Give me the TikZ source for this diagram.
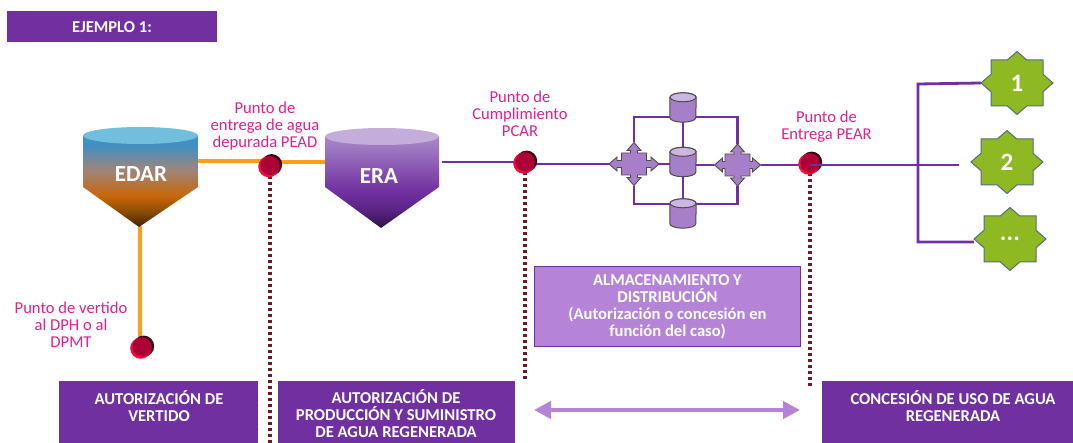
\documentclass[tikz,border=0pt]{standalone}
\usepackage{fontspec}
\setmainfont{Carlito}
\usetikzlibrary{shapes.geometric,arrows.meta,calc}
\definecolor{vio}{HTML}{7030A0}
\definecolor{lila}{HTML}{B584D8}
\definecolor{midl}{HTML}{A67FC8}
\definecolor{rosa}{HTML}{E0218A}
\definecolor{oran}{HTML}{FF9E1B}
\definecolor{dots}{HTML}{6E1A26}
\definecolor{redd}{HTML}{AE0038}
\definecolor{verde}{HTML}{8FB922}
\definecolor{slat}{HTML}{4F6F80}
\definecolor{eA}{HTML}{402000}
\definecolor{eB}{HTML}{8F4E05}
\definecolor{eC}{HTML}{C86608}
\definecolor{eD}{HTML}{A08478}
\definecolor{eE}{HTML}{4090C4}
\definecolor{eTop}{HTML}{72BFDD}
\definecolor{rA}{HTML}{2E1245}
\definecolor{rB}{HTML}{5A2585}
\definecolor{rC}{HTML}{7030A0}
\definecolor{rD}{HTML}{A480C6}
\definecolor{rTop}{HTML}{C4ACDB}
\definecolor{cylTop}{HTML}{CDB6E4}
\pgfdeclareverticalshading{edarsh}{100bp}{
 color(0bp)=(eA); color(25bp)=(eA); color(34bp)=(eB); color(42bp)=(eC);
 color(56bp)=(eD); color(70bp)=(eE); color(100bp)=(eE)}
\pgfdeclareverticalshading{erash}{100bp}{
 color(0bp)=(rA); color(25bp)=(rA); color(35bp)=(rB); color(45bp)=(rC);
 color(72bp)=(rD); color(100bp)=(rD)}
\tikzset{
 x=1pt,y=-1pt,
 pinklabel/.style={text=rosa,align=center,font=\fontsize{16.6}{17}\selectfont,inner sep=0pt},
 whitelabel/.style={text=white,align=center,font=\bfseries\fontsize{16.6}{17}\selectfont,inner sep=0pt},
 tanklabel/.style={text=white,font=\bfseries\fontsize{23}{23}\selectfont,inner sep=0pt},
 darkbox/.style={fill=vio,inner sep=0pt,anchor=north west},
 orangeline/.style={draw=oran,line width=3.2pt},
 purpleline/.style={draw=vio,line width=2.8pt},
 dottedline/.style={draw=dots,line width=3.2pt,dash pattern=on 3pt off 3pt},
 pointnode/.style={circle,minimum size=20pt,inner sep=0pt},
 storage/.style={minimum width=26pt,minimum height=29pt,inner sep=0pt},
 badge/.style={minimum width=72pt,minimum height=63pt,inner sep=0pt,text=white,font=\bfseries\fontsize{25}{25}\selectfont},
}
\newcommand{\badgeat}[4]{%
 \fill[verde,draw=slat,line width=1pt] (#2+36,#3) -- (#2+26,#3-8.75) -- (#2+26,#3-23) -- (#2+9.7,#3-23) -- (#2,#3-31.5)
  -- (#2-9.7,#3-23) -- (#2-26,#3-23) -- (#2-26,#3-8.75) -- (#2-36,#3) -- (#2-26,#3+8.75) -- (#2-26,#3+23)
  -- (#2-9.7,#3+23) -- (#2,#3+31.5) -- (#2+9.7,#3+23) -- (#2+26,#3+23) -- (#2+26,#3+8.75) -- cycle;
 \node[badge] (#1) at (#2,#3) {#4};}
\newcommand{\crossat}[5]{%
 \fill[midl,draw=black!70,line width=.9pt] (#2+#4,#3) -- (#2+#4-8,#3-7) -- (#2+#4-8,#3-3.5) -- (#2+12.5,#3-3.5) -- (#2+12.5,#3-11)
  -- (#2+3.5,#3-11) -- (#2+3.5,#3-#5+8) -- (#2+7,#3-#5+8) -- (#2,#3-#5) -- (#2-7,#3-#5+8) -- (#2-3.5,#3-#5+8) -- (#2-3.5,#3-11)
  -- (#2-12.5,#3-11) -- (#2-12.5,#3-3.5) -- (#2-#4+8,#3-3.5) -- (#2-#4+8,#3-7) -- (#2-#4,#3) -- (#2-#4+8,#3+7) -- (#2-#4+8,#3+3.5)
  -- (#2-12.5,#3+3.5) -- (#2-12.5,#3+11) -- (#2-3.5,#3+11) -- (#2-3.5,#3+#5-8) -- (#2-7,#3+#5-8) -- (#2,#3+#5) -- (#2+7,#3+#5-8)
  -- (#2+3.5,#3+#5-8) -- (#2+3.5,#3+11) -- (#2+12.5,#3+11) -- (#2+12.5,#3+3.5) -- (#2+#4-8,#3+3.5) -- (#2+#4-8,#3+7) -- cycle;
 \node[minimum width=2*#4 pt,minimum height=2*#5 pt,inner sep=0pt] (#1) at (#2,#3) {};}
\newcommand{\pointdot}[1]{%
 \fill[black!65!redd] ($(#1)+(1.6,-.8)$) circle[radius=10.6];
 \fill[red!60!rosa] ($(#1)+(-1.2,1.2)$) circle[radius=10.6];
 \fill[redd] (#1) circle[radius=9.6];}
\newcommand{\cylat}[1]{%
 \fill[midl,draw=black!70,line width=1pt] ($(#1.north west)+(0,4.5)$) -- ($(#1.south west)+(0,-4.5)$)
   arc[start angle=180,end angle=360,x radius=13,y radius=-4.5]
   -- ($(#1.north east)+(0,4.5)$) arc[start angle=0,end angle=180,x radius=13,y radius=-4.5] -- cycle;
 \fill[cylTop,draw=black!70,line width=1pt] ($(#1.north)+(0,4.5)$) ellipse[x radius=13,y radius=4.5];}
\begin{document}
\begin{tikzpicture}
\useasboundingbox (0,0) rectangle (1073,443);
% title
\node[darkbox,minimum width=210pt,minimum height=31pt] (title) at (7,11) {};
\node[whitelabel,anchor=west] (titletext) at (72,27) {EJEMPLO 1:};
% anchors
\coordinate (edarE) at (198,161);
\coordinate (edarTip) at (140,226);
\coordinate (eraW) at (325,162);
\coordinate (eraE) at (442,162);
\node[pointnode] (pead) at (270,165.5) {};
\node[pointnode] (vert) at (142,347) {};
\node[pointnode] (pcar) at (525,162) {};
\node[pointnode] (pear) at (810,163) {};
\coordinate (peadEnd) at (270,443);
\coordinate (pcarEnd) at (525,381);
\coordinate (pearEnd) at (810,387);
% dotted
\draw[dottedline] (pead.south) -- (peadEnd);
\draw[dottedline] (pcar.south) -- (pcarEnd);
\draw[dottedline] (pear.south) -- (pearEnd);
% orange lines
\draw[orangeline] (edarE) -- (edarE -| pead.center);
\draw[orangeline] (eraW -| pead.center) -- (eraW);
\draw[orangeline] (edarTip) -- (edarTip |- vert.center);
% tanks
\shade[shading=edarsh] (83,136) -- (198,136) -- (198,187) -- (139,227) -- (83,187) -- cycle;
\fill[eTop] (140.5,135.5) ellipse[x radius=57.5,y radius=8.5];
\node[tanklabel] (edar) at (141,174) {EDAR};
\shade[shading=erash] (325,137) -- (439,137) -- (439,187) -- (381,228) -- (325,187) -- cycle;
\fill[rTop] (382,136.5) ellipse[x radius=57,y radius=8.5];
\node[tanklabel] (era) at (379,176) {ERA};
% storage network
\node[storage] (cyltop) at (683,107.5) {};
\node[storage] (cylmid) at (683,162) {};
\node[storage] (cylbot) at (683,213.5) {};
\coordinate (loopT) at (683,117);
\coordinate (loopB) at (683,204);
\crossat{crossL}{634}{164}{25}{21.5}
\crossat{crossR}{737.5}{165}{23}{21}
\draw[purpleline] (eraE) -- (eraE -| pcar.center);
\draw[purpleline] (crossL.west -| pcar.center) -- (crossL.west);
\draw[purpleline] (crossL.east) -- (crossL.east -| cylmid.west);
\draw[purpleline] (crossR.west -| cylmid.east) -- (crossR.west);
\draw[purpleline] (crossR.east) -- (crossR.east -| pear.center);
\draw[purpleline] (crossL.north) |- (loopT) -| (crossR.north);
\draw[purpleline] (crossL.south) |- (loopB) -| (crossR.south);
\draw[purpleline] (cyltop.south) -- (cylbot.north);
\cylat{cyltop}
\cylat{cylmid}
\cylat{cylbot}
% points
\pointdot{pead}
\pointdot{vert}
\pointdot{pcar}
\pointdot{pear}
% consumers
\badgeat{s1}{1017}{83}{1}
\badgeat{s2}{1007}{162}{2}
\badgeat{s3}{1010}{239}{...}
\coordinate (busTop) at (918,84);
\coordinate (busBot) at (918,242);
\coordinate (busEnd) at (959,165);
\draw[purpleline] (busEnd -| pear.center) -- (busEnd);
\draw[purpleline] (s1.west) -- (busTop) -- (busBot) -- (s3.west |- busBot);
% labels
\node[pinklabel] (lpead) at (265,126) {Punto de\\entrega de agua\\depurada PEAD};
\node[pinklabel] (lpcar) at (520,114) {Punto de\\Cumplimiento\\PCAR};
\node[pinklabel] (lpear) at (826.5,127) {Punto de\\Entrega PEAR};
\node[pinklabel] (lvert) at (71,325) {Punto de vertido\\al DPH o al\\DPMT};
% boxes
\node[darkbox,minimum width=199pt,minimum height=62pt] (b1) at (59,381) {};
\node[whitelabel] (b1t) at (159,406) {AUTORIZACIÓN DE\\VERTIDO};
\node[darkbox,minimum width=237pt,minimum height=62pt] (b2) at (278,381) {};
\node[whitelabel] (b2t) at (396,414) {AUTORIZACIÓN DE\\PRODUCCIÓN Y SUMINISTRO\\DE AGUA REGENERADA};
\node[darkbox,minimum width=251pt,minimum height=62pt] (b3) at (822,381) {};
\node[whitelabel] (b3t) at (953,406) {CONCESIÓN  DE USO DE AGUA\\REGENERADA};
\node[fill=lila,draw=vio,line width=1.2pt,minimum width=266pt,minimum height=80pt,inner sep=0pt] (b4) at (667.5,306.5) {};
\node[whitelabel] (b4t) at (667.5,307) {ALMACENAMIENTO Y\\DISTRIBUCIÓN\\(Autorización o concesión en\\función del caso)};
\coordinate (arrL) at (534,410);
\coordinate (arrR) at (800,410);
\draw[draw=lila,line width=4.5pt,{Triangle[width=17pt,length=17pt]}-{Triangle[width=17pt,length=17pt]}] (arrL) -- (arrR);
\end{tikzpicture}
\end{document}
